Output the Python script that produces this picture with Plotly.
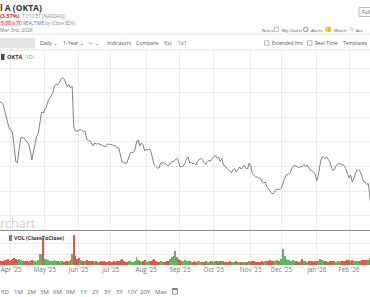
import plotly.graph_objects as go
import pandas as pd

# ---------------- data ----------------
start_date = "2025-03-20"
market_holidays = ["2025-04-18", "2025-05-26", "2025-06-19", "2025-07-04", "2025-09-01",
                   "2025-11-27", "2025-12-25", "2026-01-01", "2026-01-19", "2026-02-16"]

closes = [
    116.58, 116.30, 115.97, 115.37, 112.93, 110.49, 107.64, 105.20, 104.99, 103.58,
    97.88, 91.79, 91.59, 96.67, 101.54, 101.75, 101.54, 100.73, 100.12, 99.10,
    96.26, 92.60, 96.26, 99.92, 102.36, 103.58, 108.05, 112.11, 111.70, 112.93,
    114.14, 116.58, 117.80, 118.82, 119.84, 122.68, 123.49, 123.29, 123.90, 125.53,
    126.14, 125.53, 123.49, 122.28, 123.25, 121.90, 122.60, 106.02, 104.39, 104.39,
    104.39, 105.20, 104.80, 104.10, 104.39, 101.14, 100.73, 100.32, 99.51, 98.29,
    99.51, 99.10, 99.31, 99.10, 98.70, 98.49, 98.09, 98.09, 99.10, 99.10,
    98.90, 98.70, 98.49, 98.29, 97.48, 97.48, 94.63, 91.79, 91.46, 91.38,
    91.38, 93.41, 95.57, 95.65, 95.73, 96.67, 99.92, 100.73, 98.29, 99.51,
    98.90, 96.26, 97.07, 96.67, 97.07, 95.85, 93.01, 90.57, 89.96, 89.35,
    89.35, 91.38, 91.67, 91.38, 91.18, 90.37, 90.37, 91.38, 91.91, 91.99,
    92.60, 93.29, 92.19, 89.88, 89.96, 90.16, 91.18, 93.01, 93.82, 91.38,
    91.59, 91.18, 91.18, 90.57, 92.19, 93.01, 93.21, 92.81, 91.59, 90.85,
    91.99, 92.40, 92.19, 93.41, 93.94, 94.43, 93.41, 93.62, 91.99, 93.21,
    90.57, 90.16, 89.27, 88.54, 87.93, 87.52, 88.74, 89.14, 87.72, 88.94,
    89.76, 88.94, 89.55, 90.37, 89.14, 89.14, 91.38, 89.88, 86.99, 86.10,
    85.69, 85.69, 85.29, 85.29, 83.66, 83.25, 83.66, 81.71, 80.81, 80.00,
    78.98, 78.98, 79.79, 80.81, 80.61, 80.69, 81.22, 83.66, 85.08, 86.50,
    86.71, 87.11, 88.33, 89.96, 90.37, 90.16, 89.96, 89.35, 89.96, 89.90,
    90.77, 89.96, 90.57, 89.35, 88.54, 88.33, 87.72, 86.91, 84.19, 86.50,
    90.77, 93.62, 93.94, 93.21, 93.82, 93.09, 92.07, 89.76, 88.33, 88.74,
    90.37, 90.97, 91.18, 90.97, 90.77, 90.37, 89.14, 87.32, 85.29, 86.50,
    83.66, 85.08, 87.32, 88.33, 88.54, 87.93, 85.89, 84.06, 83.66, 82.64,
    83.05, 76.34, 72.28,
]

volumes_m = [
    3.0, 2.6, 3.4, 2.8, 3.9, 3.5, 4.2, 3.1, 3.6, 4.4,
    5.1, 4.8, 3.9, 4.6, 3.8, 3.2, 2.9, 2.7, 3.0, 2.5,
    3.3, 4.0, 3.1, 2.8, 2.6, 3.9, 8.2, 8.0, 20.5, 4.6,
    4.5, 3.6, 3.0, 2.8, 3.2, 3.5, 2.9, 3.1, 2.6, 3.3,
    2.8, 2.5, 3.4, 3.0, 2.7, 3.6, 8.0, 23.0, 7.2, 4.6,
    5.0, 3.8, 3.4, 3.0, 2.9, 3.6, 3.2, 2.8, 3.1, 2.7,
    2.5, 2.9, 2.4, 2.6, 3.0, 2.3, 2.7, 2.5, 2.2, 2.8,
    2.6, 2.4, 2.9, 2.5, 3.1, 2.7, 3.8, 4.2, 3.0, 2.6,
    2.4, 3.2, 2.9, 2.5, 2.3, 3.4, 6.2, 4.0, 2.7, 2.6,
    2.8, 3.6, 2.5, 2.4, 2.7, 3.0, 3.9, 4.3, 3.1, 2.6,
    2.5, 2.7, 2.3, 2.6, 2.4, 2.9, 3.3, 4.6, 5.8, 6.5,
    11.0, 6.0, 4.2, 3.5, 3.0, 2.8, 3.6, 3.2, 2.9, 2.7,
    2.6, 2.4, 2.8, 2.5, 3.1, 2.9, 2.4, 2.6, 2.3, 2.7,
    2.5, 2.2, 2.8, 3.0, 2.6, 3.3, 2.9, 2.4, 2.7, 3.1,
    2.8, 2.5, 2.6, 2.3, 2.9, 2.4, 2.2, 2.5, 2.7, 2.3,
    2.1, 2.4, 2.6, 2.2, 2.5, 2.3, 2.8, 2.6, 3.0, 2.7,
    2.4, 2.6, 2.3, 2.5, 2.8, 2.4, 2.7, 3.0, 3.3, 3.6,
    3.2, 2.9, 3.3, 3.6, 3.1, 3.4, 4.6, 12.0, 7.0, 4.5,
    4.0, 3.5, 3.2, 3.8, 3.0, 2.7, 2.9, 2.6, 3.1, 4.6,
    3.3, 2.8, 2.6, 2.9, 3.1, 2.7, 2.5, 2.9, 3.4, 3.0,
    4.2, 3.8, 3.1, 2.7, 2.9, 2.5, 2.8, 3.2, 3.0, 2.7,
    2.6, 2.9, 2.4, 2.7, 3.0, 2.8, 3.1, 3.5, 3.9, 3.2,
    3.8, 3.4, 3.0, 2.9, 2.7, 3.3, 3.6, 3.9, 3.5, 3.8,
    4.0, 5.2, 6.0,
]

month_ticks = ["2025-04-01", "2025-05-01", "2025-06-02", "2025-07-01", "2025-08-01", "2025-09-02",
               "2025-10-01", "2025-11-03", "2025-12-01", "2026-01-02", "2026-02-02"]
month_labels = ["Apr '25", "May '25", "Jun '25", "Jul '25", "Aug '25", "Sep '25",
                "Oct '25", "Nov '25", "Dec '25", "Jan '26", "Feb '26"]
price_ticks = [70, 80, 90, 100, 110, 120, 130]
volume_ticks = [8, 16]
range_buttons = ["5D", "1M", "2M", "3M", "6M", "9M", "1Y", "2Y", "3Y", "5Y", "10Y", "20Y", "Max"]

# ---------------- build ----------------
W, H = 370, 297
FONT = "Open Sans, Roboto, DejaVu Sans, sans-serif"
GREEN, RED = "#5cb85c", "#e2574c"

dates = pd.bdate_range(start=start_date, periods=len(closes), freq="C", holidays=market_holidays)
cats = [d.strftime("%Y-%m-%d") for d in dates]
bar_colors = [GREEN] + [GREEN if closes[k] > closes[k - 1] else RED for k in range(1, len(closes))]

i0 = cats.index(month_ticks[0])
x_range = [i0 - 6.83, i0 + 223.05]


def fy(py):
    return 1 - py / H


fig = go.Figure()
fig.add_trace(go.Scatter(x=cats, y=closes, mode="lines", line=dict(color="#747474", width=0.9),
                         xaxis="x", yaxis="y", hoverinfo="skip"))
fig.add_trace(go.Bar(x=cats, y=volumes_m, marker=dict(color=bar_colors, line=dict(width=0)),
                     width=0.55, xaxis="x2", yaxis="y2", hoverinfo="skip"))

grid = "#ededed"
VOL_TOP, VOL_BASE = 232, 265
fig.update_layout(
    width=W, height=H, margin=dict(l=0, r=0, t=0, b=0),
    paper_bgcolor="white", plot_bgcolor="white", showlegend=False,
    font=dict(family=FONT),
    xaxis=dict(type="category", range=x_range, domain=[0, 1], anchor="y",
               tickvals=month_ticks, ticktext=month_labels, showticklabels=False,
               showgrid=True, gridcolor=grid, gridwidth=1, zeroline=False, showline=False, ticks=""),
    yaxis=dict(domain=[fy(230), fy(50)], range=[64.15, 137.32], tickvals=price_ticks,
               showticklabels=False, showgrid=True, gridcolor=grid, gridwidth=1,
               zeroline=False, showline=False, ticks=""),
    xaxis2=dict(type="category", range=x_range, domain=[0, 1], anchor="y2",
                tickvals=month_ticks, ticktext=month_labels, showticklabels=True,
                tickfont=dict(size=6.3, color="#777", family=FONT),
                showgrid=True, gridcolor=grid, gridwidth=1, zeroline=False, showline=False, ticks=""),
    yaxis2=dict(domain=[fy(VOL_BASE), fy(VOL_TOP)], range=[0, 25.1], tickvals=volume_ticks,
                showticklabels=False, showgrid=True, gridcolor=grid, gridwidth=1,
                zeroline=False, showline=False, ticks=""),
    bargap=0,
)

ann = []
shapes = []


def txt(px, py, s, size=6.0, color="#555", anchor="left", bold=False):
    ann.append(dict(x=px / W, y=fy(py), xref="paper", yref="paper",
                    text=f"<b>{s}</b>" if bold else s, showarrow=False,
                    xanchor=anchor, yanchor="middle", borderpad=0,
                    font=dict(size=size, color=color, family=FONT)))


def rect(x0, y0, x1, y1, fill="rgba(0,0,0,0)", line="#bbb", lw=0.8):
    shapes.append(dict(type="rect", xref="paper", yref="paper", x0=x0 / W, x1=x1 / W,
                       y0=fy(y1), y1=fy(y0), fillcolor=fill, line=dict(color=line, width=lw)))


def hline(py, color, w=1):
    shapes.append(dict(type="line", xref="paper", yref="paper", x0=0, x1=1, y0=fy(py), y1=fy(py),
                       line=dict(color=color, width=w)))


NOLINE = "rgba(0,0,0,0)"

# header (left)
txt(-1, 7, "l A (OKTA)", 8.5, "#333", bold=True)
txt(-1, 15.5, "<b>(3.57%)</b>", 5.5, "#d9302c")
txt(21, 15.5, "11:10 ET [NASDAQ]", 4.8, "#888")
rect(0, 19.5, 20, 26.5, fill="#fde3e1", line=NOLINE, lw=0)
txt(0, 23, "5.58 x 70", 5, "#d9302c")
txt(22, 23, "REALTIME", 4.6, "#3a78c9")
txt(44, 23, "by (Cboe BZX)", 4.6, "#888")
txt(-1, 29.5, "Mar 3rd, 2026", 5, "#777")

# header (right)
rect(359, 7.5, 372, 16.5, fill="white", line="#aaa", lw=0.8)
txt(361, 12, "Full", 5, "#555")
txt(261, 29.5, "Notes", 4.3, "#555")
rect(274.5, 27.2, 278.5, 31.5, fill="white", line="#999", lw=0.6)
txt(281, 29.5, "My Charts", 4.3, "#555")
shapes.append(dict(type="circle", xref="paper", yref="paper", x0=303.5 / W, x1=308 / W,
                   y0=fy(31.8), y1=fy(27.2), fillcolor="white", line=dict(color="#3a78c9", width=0.8)))
txt(310, 29.5, "Alerts", 4.3, "#555")
shapes.append(dict(type="circle", xref="paper", yref="paper", x0=325.5 / W, x1=331 / W,
                   y0=fy(32.3), y1=fy(26.8), fillcolor="#f2b21c", line=dict(width=0)))
txt(328.3, 29.6, "<b>!</b>", 4.5, "white", anchor="center")
txt(333, 29.5, "Watch", 4.3, "#555")
txt(351, 29.3, "☆", 6, "#3a78c9", anchor="center")
txt(355, 29.5, "Act", 4.3, "#555")

hline(34, "#e6e6e6")

# toolbar
rect(-2, 38, 35, 48.5, fill="#e4e4e4", line=NOLINE, lw=0)
txt(39, 43.3, "Daily ⌄", 5.2, "#555")
txt(62, 43.3, "1-Year ⌄", 5.2, "#555")
txt(87, 43.3, "〜 ⌄", 5.2, "#555")
txt(106, 43.3, "Indicators", 5.2, "#555")
txt(135, 43.3, "Compare", 5.2, "#555")
txt(163, 43.3, "f(x)", 5.2, "#555")
txt(177, 43.3, "1x1", 5.2, "#555")
rect(264.5, 40.8, 269, 45.3, fill="white", line="#999", lw=0.7)
txt(271, 43.3, "Extended Hrs", 4.9, "#555")
rect(307.5, 40.8, 312, 45.3, fill="white", line="#999", lw=0.7)
txt(314, 43.3, "Real-Time", 4.9, "#555")
txt(342, 43.3, "Templates", 4.9, "#555")

hline(50, "#e2e2e2")

# chart label
rect(1, 54, 4.5, 60, fill="#444", line=NOLINE, lw=0)
txt(6, 57, "<b>OKTA</b> <span style='color:#888'>-1D-</span>", 5.6, "#333")

# watermark + separator
txt(-1, 223, "rchart", 12.5, "#cdcdcd")
hline(230.5, "#8a8a8a", 1)

# volume label
txt(0, 238, "·· ·", 6, "#999")
rect(9, 235, 10.5, 241, fill="#3b5bdb", line=NOLINE, lw=0)
rect(10.5, 235, 12, 241, fill="#b84fd8", line=NOLINE, lw=0)
txt(13, 238, "<b>VOL (CloseToClose)</b>", 5.3, "#333")

# range buttons
btn_x = [5, 18, 31, 44, 57, 70, 83, 95, 107, 119, 132, 145, 161]
for bx, label in zip(btn_x, range_buttons):
    txt(bx, 291.5, label, 6, "#2a7ae2" if label == "1Y" else "#666", anchor="center")
# calendar icon
rect(172.5, 288.5, 177.5, 294, fill="white", line="#777", lw=0.8)
rect(172.5, 288.5, 177.5, 290, fill="#777", line=NOLINE, lw=0)

fig.update_layout(annotations=ann, shapes=shapes)
fig.write_html("out.html")
